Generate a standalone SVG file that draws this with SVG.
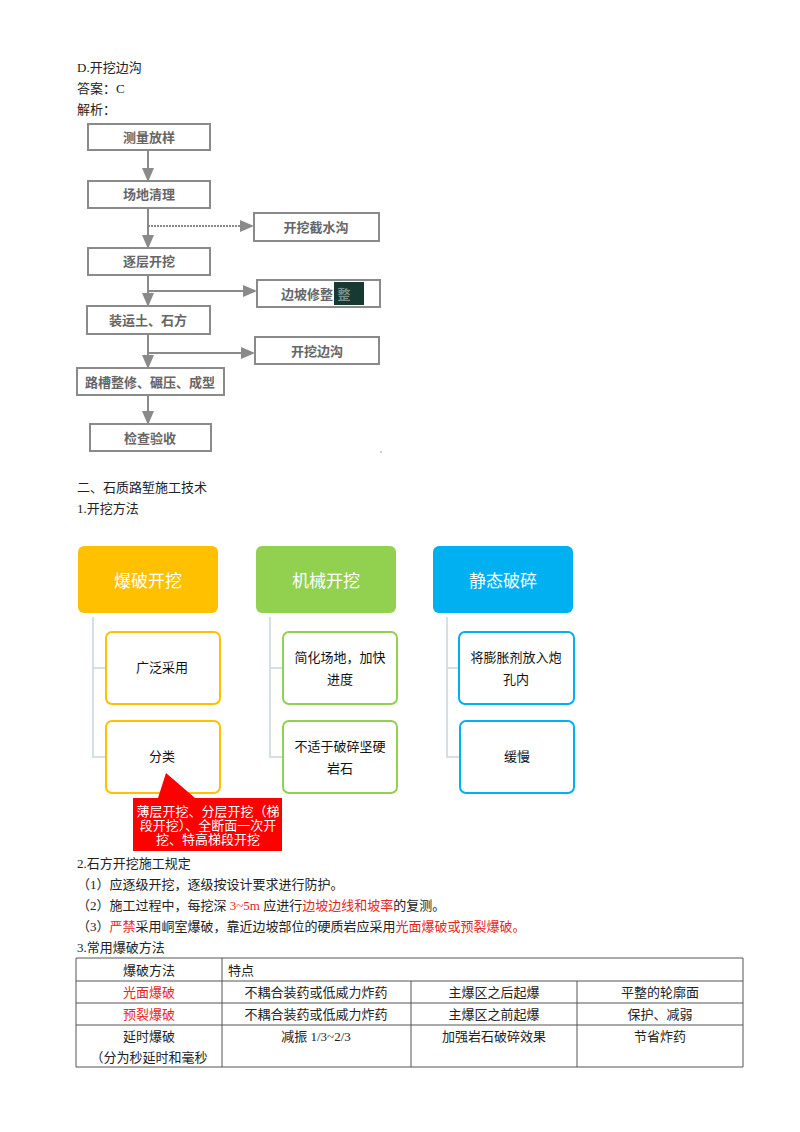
<svg xmlns="http://www.w3.org/2000/svg" width="800" height="1132" viewBox="0 0 800 1132">
<style>
text{font-family:"Liberation Serif","Noto Sans CJK SC",serif;font-size:13px;fill:#222}
.fb rect{fill:#fff;stroke:#8a8a8a;stroke-width:2}
.fb text{font-size:13px;fill:#666;font-weight:bold;text-anchor:middle}
.fl{stroke:#8a8a8a;stroke-width:2;fill:none}
.hd text{fill:#fff;font-size:17px;text-anchor:middle;font-family:"Noto Sans CJK SC",sans-serif}
.ch rect{fill:#fff;stroke-width:2}
.ch text{font-size:13px;text-anchor:middle;font-family:"Noto Sans CJK SC",sans-serif;fill:#111}
.tl{stroke:#d5e0e5;stroke-width:2;fill:none}
.red{fill:#e8261f}
.tb line{stroke:#555;stroke-width:1}
.c{text-anchor:middle}
</style>
<defs><marker id="a" markerWidth="8" markerHeight="8" refX="6" refY="4" orient="auto"><path d="M0,1 L7,4 L0,7z" fill="#8a8a8a"/></marker></defs>
<text x="77" y="72">D.开挖边沟</text>
<text x="77" y="93">答案：C</text>
<text x="77" y="114">解析：</text>
<g id="connectors">
<path class="fl" d="M148,150 V180" marker-end="url(#a)"/>
<path class="fl" d="M148,208 V247" marker-end="url(#a)"/>
<path class="fl" d="M148,226 H252" stroke-dasharray="2,1" marker-end="url(#a)"/>
<path class="fl" d="M148,275 V305" marker-end="url(#a)"/>
<path class="fl" d="M148,291 H255" marker-end="url(#a)"/>
<path class="fl" d="M148,334 V367" marker-end="url(#a)"/>
<path class="fl" d="M148,353 H253" marker-end="url(#a)"/>
<path class="fl" d="M148,395 V423" marker-end="url(#a)"/>
<path class="tl" d="M93,617 V757 H106 M93,668 H106 M270,617 V757 H283 M270,668 H283 M447,617 V757 H459 M447,668 H459"/>
</g>
<g class="fb">
<g id="n1"><rect x="88" y="124" width="122" height="26"/><text x="149" y="142">测量放样</text></g>
<g id="n2"><rect x="88" y="181" width="122" height="27"/><text x="149" y="199">场地清理</text></g>
<g id="n3"><rect x="254" y="213" width="125" height="28"/><text x="316" y="232">开挖截水沟</text></g>
<g id="n4"><rect x="88" y="248" width="122" height="27"/><text x="149" y="266">逐层开挖</text></g>
<g id="n5"><rect x="257" y="280" width="123" height="27"/><text x="307" y="299">边坡修整</text><rect x="334" y="282" width="30" height="23" style="fill:#163a32;stroke:none"/><text x="344" y="299" style="fill:#7a8f8a">整</text></g>
<g id="n6"><rect x="87" y="306" width="123" height="28"/><text x="148" y="325">装运土、石方</text></g>
<g id="n7"><rect x="255" y="337" width="124" height="27"/><text x="317" y="356">开挖边沟</text></g>
<g id="n8"><rect x="77" y="368" width="147" height="27"/><text x="150" y="387">路槽整修、碾压、成型</text></g>
<g id="n9"><rect x="90" y="424" width="121" height="27"/><text x="150" y="443">检查验收</text></g>
</g>
<circle cx="381" cy="452" r="0.8" fill="#888"/>
<text x="77" y="492">二、石质路堑施工技术</text>
<text x="77" y="513">1.开挖方法</text>
<g class="hd">
<g id="h1"><rect x="78" y="546" width="140" height="67" rx="6" fill="#FFC000"/><text x="148" y="587">爆破开挖</text></g>
<g id="h2"><rect x="256" y="546" width="140" height="67" rx="6" fill="#92D050"/><text x="326" y="587">机械开挖</text></g>
<g id="h3"><rect x="433" y="546" width="140" height="67" rx="6" fill="#00B0F0"/><text x="503" y="587">静态破碎</text></g>
</g>
<g class="ch">
<g id="c1"><rect x="106" y="632" width="114" height="72" rx="6" stroke="#FFC000"/><text x="162" y="672">广泛采用</text></g>
<g id="c2"><rect x="106" y="721" width="114" height="72" rx="6" stroke="#FFC000"/><text x="162" y="761">分类</text></g>
<g id="c3"><rect x="283" y="632" width="114" height="72" rx="6" stroke="#92D050"/><text x="340" y="662">简化场地，加快</text><text x="340" y="684">进度</text></g>
<g id="c4"><rect x="283" y="721" width="114" height="72" rx="6" stroke="#92D050"/><text x="340" y="751">不适于破碎坚硬</text><text x="340" y="773">岩石</text></g>
<g id="c5"><rect x="459" y="632" width="115" height="72" rx="6" stroke="#00B0F0"/><text x="516" y="662">将膨胀剂放入炮</text><text x="516" y="684">孔内</text></g>
<g id="c6"><rect x="460" y="721" width="114" height="72" rx="6" stroke="#00B0F0"/><text x="517" y="761">缓慢</text></g>
</g>
<g id="callout">
<path d="M133,798 H158 L166,773 L195,798 H282 V851 H133z" fill="#FF0000"/>
<g style="font-family:'Noto Sans CJK SC',sans-serif;font-size:11.5px;fill:#fff;text-anchor:middle">
<text x="208" y="816" style="fill:#fff">薄层开挖、分层开挖（梯</text>
<text x="208" y="830" style="fill:#fff">段开挖）、全断面一次开</text>
<text x="208" y="844" style="fill:#fff">挖、特高梯段开挖</text></g>
</g>
<text x="77" y="868">2.石方开挖施工规定</text>
<text x="77" y="889">（1）应逐级开挖，逐级按设计要求进行防护。</text>
<text x="77" y="910">（2）施工过程中，每挖深 <tspan class="red">3~5m</tspan> 应进行<tspan class="red">边坡边线和坡率</tspan>的复测。</text>
<text x="77" y="931">（3）<tspan class="red">严禁</tspan>采用峒室爆破，靠近边坡部位的硬质岩应采用<tspan class="red">光面爆破或预裂爆破。</tspan></text>
<text x="77" y="952">3.常用爆破方法</text>
<g class="tb">
<line x1="76" y1="958" x2="743" y2="958"/><line x1="76" y1="981" x2="743" y2="981"/><line x1="76" y1="1003" x2="743" y2="1003"/><line x1="76" y1="1025" x2="743" y2="1025"/><line x1="76" y1="1067" x2="743" y2="1067"/>
<line x1="76" y1="958" x2="76" y2="1067"/><line x1="222" y1="958" x2="222" y2="1067"/><line x1="411" y1="981" x2="411" y2="1067"/><line x1="577" y1="981" x2="577" y2="1067"/><line x1="743" y1="958" x2="743" y2="1067"/>
</g>
<text class="c" x="149" y="975">爆破方法</text><text x="228" y="975">特点</text>
<text class="c red" x="149" y="997">光面爆破</text><text class="c" x="316" y="997">不耦合装药或低威力炸药</text><text class="c" x="494" y="997">主爆区之后起爆</text><text class="c" x="660" y="997">平整的轮廓面</text>
<text class="c red" x="149" y="1019">预裂爆破</text><text class="c" x="316" y="1019">不耦合装药或低威力炸药</text><text class="c" x="494" y="1019">主爆区之前起爆</text><text class="c" x="660" y="1019">保护、减弱</text>
<text class="c" x="149" y="1041">延时爆破</text><text class="c" x="149" y="1062">（分为秒延时和毫秒</text><text class="c" x="316" y="1041">减振 1/3~2/3</text><text class="c" x="494" y="1041">加强岩石破碎效果</text><text class="c" x="660" y="1041">节省炸药</text>
</svg>
